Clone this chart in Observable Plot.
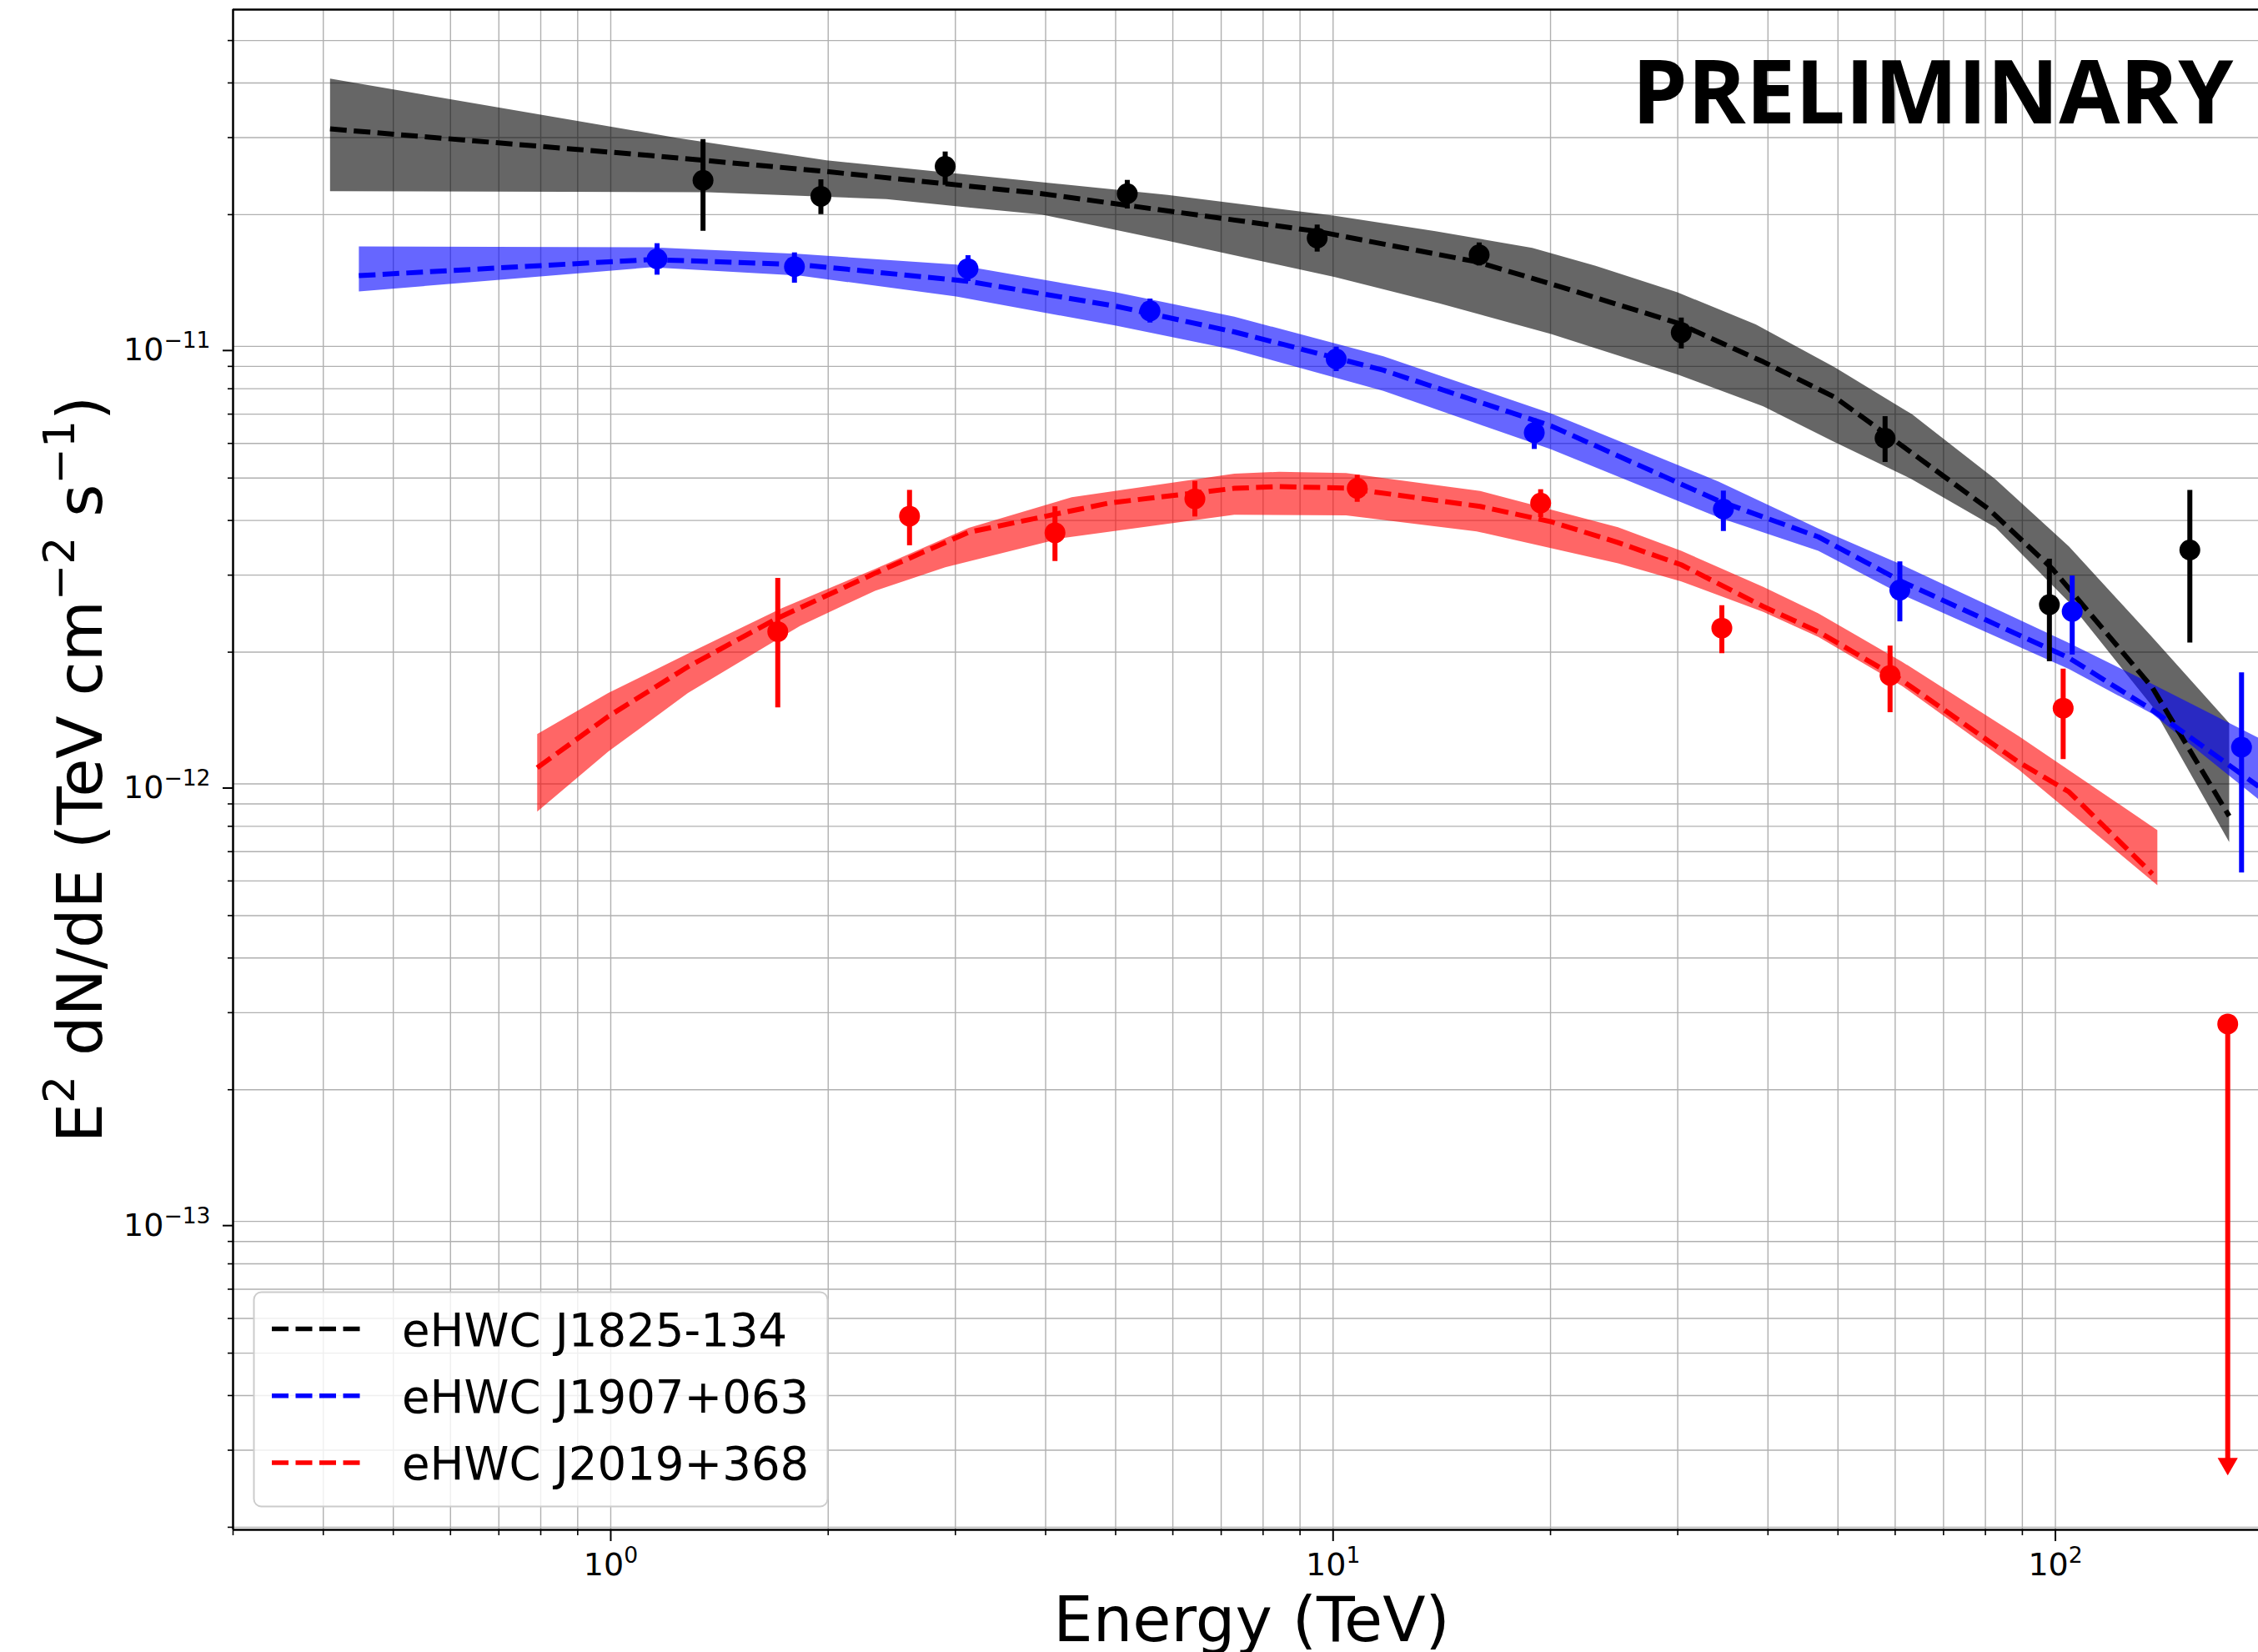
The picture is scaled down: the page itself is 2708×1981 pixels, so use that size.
<!DOCTYPE html>
<html><head><meta charset="utf-8">
<script src="https://cdn.jsdelivr.net/npm/d3@7"></script>
<script src="https://cdn.jsdelivr.net/npm/@observablehq/plot@0.6"></script>
<style>html,body{margin:0;padding:0;background:#fff;} svg{display:block;} text{white-space:pre;}</style>
</head><body><div id="chart"></div>
<script>
// ---------------- DATA ----------------
const sourceNames = ["eHWC J1825-134", "eHWC J1907+063", "eHWC J2019+368"];
const sourceColors = ["black", "blue", "red"];

// Flux points (E in TeV, E^2 dN/dE in TeV cm^-2 s^-1)
const j1825E  = [1.342, 1.954, 2.904, 5.189, 9.506, 15.93, 30.34, 58.1, 98.1, 153.5];
const j1825F  = [2.396e-11, 2.202e-11, 2.578e-11, 2.233e-11, 1.768e-11, 1.619e-11, 1.075e-11, 6.166e-12, 2.568e-12, 3.425e-12];
const j1825Lo = [1.833e-11, 2.001e-11, 2.334e-11, 2.061e-11, 1.643e-11, 1.527e-11, 9.87e-12, 5.43e-12, 1.903e-12, 2.099e-12];
const j1825Hi = [2.97e-11, 2.403e-11, 2.782e-11, 2.396e-11, 1.894e-11, 1.724e-11, 1.161e-11, 6.91e-12, 3.264e-12, 4.688e-12];

const j1907E  = [1.159, 1.796, 3.123, 5.579, 10.1, 18.99, 34.7, 60.9, 105.5, 181.0];
const j1907F  = [1.584e-11, 1.521e-11, 1.505e-11, 1.205e-11, 9.355e-12, 6.35e-12, 4.246e-12, 2.773e-12, 2.479e-12, 1.213e-12];
const j1907Lo = [1.455e-11, 1.395e-11, 1.407e-11, 1.131e-11, 8.76e-12, 5.815e-12, 3.776e-12, 2.347e-12, 1.971e-12, 6.26e-13];
const j1907Hi = [1.717e-11, 1.636e-11, 1.612e-11, 1.283e-11, 9.96e-12, 6.83e-12, 4.67e-12, 3.218e-12, 2.987e-12, 1.794e-12];

const j2019E  = [1.703, 2.592, 4.121, 6.437, 10.8, 19.38, 34.53, 59.03, 102.5];
const j2019F  = [2.228e-12, 4.093e-12, 3.749e-12, 4.483e-12, 4.737e-12, 4.384e-12, 2.27e-12, 1.77e-12, 1.49e-12];
const j2019Lo = [1.493e-12, 3.503e-12, 3.224e-12, 4.076e-12, 4.403e-12, 4.063e-12, 1.985e-12, 1.455e-12, 1.137e-12];
const j2019Hi = [2.949e-12, 4.688e-12, 4.3e-12, 4.914e-12, 5.075e-12, 4.704e-12, 2.555e-12, 2.066e-12, 1.83e-12];
// upper limit of eHWC J2019+368
const j2019UlE = [173.2];
const j2019UlF = [2.826e-13];
const j2019UlTip = [2.626e-14];

// Best-fit spectra (dashed lines)
const fit1825E = [0.4087, 1.136, 1.984, 3.95, 7.30, 9.48, 15.79, 20.03, 29.97, 39.4, 49.5, 61.3, 80.8, 98.97, 136.2, 174.0];
const fit1825F = [3.14e-11, 2.73e-11, 2.51e-11, 2.234e-11, 1.944e-11, 1.833e-11, 1.561e-11, 1.389e-11, 1.131e-11, 9.22e-12, 7.65e-12, 5.93e-12, 4.25e-12, 3.105e-12, 1.66e-12, 8.44e-13];
const fit1907E = [0.448, 1.136, 1.826, 3.115, 5.006, 7.30, 11.74, 20.03, 34.17, 46.96, 61.3, 104.4, 136.2, 191.1];
const fit1907F = [1.451e-11, 1.579e-11, 1.538e-11, 1.409e-11, 1.235e-11, 1.079e-11, 8.82e-12, 6.58e-12, 4.436e-12, 3.67e-12, 2.90e-12, 1.941e-12, 1.475e-12, 9.87e-13];
const fit2019E = [0.791, 0.992, 1.279, 1.698, 2.322, 3.13, 4.896, 7.30, 8.42, 10.42, 15.98, 20.03, 24.8, 30.34, 39.4, 46.97, 61.3, 88.97, 104.4, 136.2];
const fit2019F = [1.089e-12, 1.426e-12, 1.853e-12, 2.387e-12, 3.03e-12, 3.759e-12, 4.385e-12, 4.737e-12, 4.779e-12, 4.744e-12, 4.307e-12, 3.974e-12, 3.561e-12, 3.168e-12, 2.544e-12, 2.227e-12, 1.725e-12, 1.121e-12, 9.59e-13, 6.23e-13];

// Uncertainty bands: upper and lower edges
const band1825UpE = [0.4087, 1.238, 1.990, 5.904, 10.06, 13.86, 18.87, 23.09, 29.97, 38.47, 49.5, 63.27, 82.6, 104.4, 136.2, 174.0];
const band1825UpF = [4.09e-11, 2.993e-11, 2.661e-11, 2.218e-11, 1.988e-11, 1.833e-11, 1.679e-11, 1.527e-11, 1.329e-11, 1.123e-11, 8.95e-12, 7.0e-12, 4.97e-12, 3.49e-12, 2.163e-12, 1.377e-12];
const band1825LoE = [0.4087, 1.361, 2.407, 3.126, 3.95, 5.904, 10.06, 14.03, 20.03, 29.97, 39.4, 49.5, 63.27, 82.6, 104.4, 136.2, 174.0];
const band1825LoF = [2.263e-11, 2.25e-11, 2.17e-11, 2.077e-11, 2.001e-11, 1.742e-11, 1.44e-11, 1.254e-11, 1.067e-11, 8.63e-12, 7.29e-12, 6.04e-12, 4.97e-12, 3.855e-12, 2.604e-12, 1.504e-12, 7.36e-13];

const band1907UpE = [0.448, 1.136, 1.826, 3.006, 5.006, 7.30, 11.74, 20.03, 34.17, 46.96, 61.3, 104.4, 136.2, 191.1];
const band1907UpF = [1.692e-11, 1.684e-11, 1.626e-11, 1.538e-11, 1.329e-11, 1.169e-11, 9.49e-12, 7.03e-12, 4.91e-12, 3.835e-12, 3.167e-12, 2.099e-12, 1.692e-12, 1.274e-12];
const band1907LoE = [0.448, 1.136, 1.826, 3.006, 5.006, 7.30, 11.74, 20.03, 34.17, 46.96, 61.3, 104.4, 136.2, 191.1];
const band1907LoF = [1.335e-11, 1.516e-11, 1.451e-11, 1.30e-11, 1.115e-11, 9.82e-12, 7.91e-12, 5.815e-12, 4.063e-12, 3.41e-12, 2.708e-12, 1.83e-12, 1.446e-12, 9.22e-13];

const band2019UpE = [0.791, 0.992, 1.279, 1.723, 2.322, 3.13, 4.346, 7.30, 8.42, 10.42, 15.98, 24.8, 30.34, 39.4, 46.96, 61.3, 88.97, 138.4];
const band2019UpF = [1.30e-12, 1.613e-12, 1.985e-12, 2.52e-12, 3.10e-12, 3.848e-12, 4.521e-12, 5.117e-12, 5.167e-12, 5.135e-12, 4.67e-12, 3.86e-12, 3.41e-12, 2.82e-12, 2.454e-12, 1.903e-12, 1.286e-12, 7.84e-13];
const band2019LoE = [0.791, 0.992, 1.279, 1.829, 2.322, 2.905, 4.219, 7.30, 10.42, 15.8, 24.8, 30.34, 39.4, 46.96, 61.3, 88.97, 138.4];
const band2019LoF = [8.64e-13, 1.185e-12, 1.613e-12, 2.298e-12, 2.763e-12, 3.126e-12, 3.645e-12, 4.123e-12, 4.109e-12, 3.776e-12, 3.192e-12, 2.902e-12, 2.472e-12, 2.167e-12, 1.675e-12, 1.078e-12, 5.87e-13];

// Axes
const xDomain = [0.3, 191];
const yDomain = [1.973e-14, 5.884e-11];
const xMajorTicks = [1, 10, 100];
const xMinorTicks = [0.3, 0.4, 0.5, 0.6, 0.7, 0.8, 0.9, 2, 3, 4, 5, 6, 7, 8, 9, 20, 30, 40, 50, 60, 70, 80, 90];
const yMajorTicks = [1e-13, 1e-12, 1e-11];
const yMinorTicks = [2e-14, 3e-14, 4e-14, 5e-14, 6e-14, 7e-14, 8e-14, 9e-14,
                     2e-13, 3e-13, 4e-13, 5e-13, 6e-13, 7e-13, 8e-13, 9e-13,
                     2e-12, 3e-12, 4e-12, 5e-12, 6e-12, 7e-12, 8e-12, 9e-12,
                     2e-11, 3e-11, 4e-11, 5e-11];
const xTitle = "Energy (TeV)";
const yTitleParts = [["E", false], ["2", true], [" dN/dE (TeV cm", false], ["\u22122", true], [" s", false], ["\u22121", true], [")", false]];
const watermark = "PRELIMINARY";

// ---------------- BUILD ----------------
const pts = (E, F, Lo, Hi) => E.map((e, i) => ({E: e, F: F[i], lo: Lo[i], hi: Hi[i]}));
const line = (E, F) => E.map((e, i) => ({E: e, F: F[i]}));
const band = (uE, uF, lE, lF) => [...line(uE, uF), ...line(lE, lF).reverse()];

const points = [pts(j1825E, j1825F, j1825Lo, j1825Hi), pts(j1907E, j1907F, j1907Lo, j1907Hi), pts(j2019E, j2019F, j2019Lo, j2019Hi)];
const fits = [line(fit1825E, fit1825F), line(fit1907E, fit1907F), line(fit2019E, fit2019F)];
const bands = [band(band1825UpE, band1825UpF, band1825LoE, band1825LoF),
               band(band1907UpE, band1907UpF, band1907LoE, band1907LoF),
               band(band2019UpE, band2019UpF, band2019LoE, band2019LoF)];
const ul = j2019UlE.map((e, i) => ({E: e, F: j2019UlF[i], tip: j2019UlTip[i]}));

const dash = "20,8.5";
const supFmt = d => "10^" + String(Math.round(Math.log10(d))).replace("-", "\u2212");

const marks = [
  Plot.gridX([...xMinorTicks, ...xMajorTicks], {stroke: "#b0b0b0", strokeOpacity: 1, strokeWidth: 1.4}),
  Plot.gridY([...yMinorTicks, ...yMajorTicks], {stroke: "#b0b0b0", strokeOpacity: 1, strokeWidth: 1.4}),
];
bands.forEach((b, k) => marks.push(Plot.line(b, {x: "E", y: "F", fill: sourceColors[k], fillOpacity: 0.6, stroke: "none"})));
fits.forEach((f, k) => marks.push(Plot.line(f, {x: "E", y: "F", stroke: sourceColors[k], strokeWidth: 6, strokeDasharray: dash, strokeLinecap: "butt"})));
points.forEach((p, k) => {
  marks.push(Plot.ruleX(p, {x: "E", y1: "hi", y2: "lo", stroke: sourceColors[k], strokeWidth: 6}));
  marks.push(Plot.dot(p, {x: "E", y: "F", r: 12.5, fill: sourceColors[k], stroke: "none"}));
});
marks.push(
  Plot.ruleX(ul, {x: "E", y1: "F", y2: "tip", stroke: "red", strokeWidth: 6, insetBottom: 14}),
  Plot.dot(ul, {x: "E", y: "F", r: 12.5, fill: "red", stroke: "none"}),
  Plot.dot(ul, {x: "E", y: "tip", symbol: "triangle", r: 9, rotate: 180, dy: -14, fill: "red", stroke: "none"}),
  Plot.ruleX([xDomain[0]], {stroke: "black", strokeWidth: 2.5}),
  Plot.ruleY(yDomain, {stroke: "black", strokeWidth: 2.5}),
  Plot.axisX(xMinorTicks, {anchor: "bottom", tickSize: 7, strokeWidth: 1.6, tickFormat: () => "", label: null}),
  Plot.axisX(xMajorTicks, {anchor: "bottom", tickSize: 14, tickPadding: 14, strokeWidth: 2, fontSize: 38, tickFormat: supFmt, label: null}),
  Plot.axisY(yMinorTicks, {anchor: "left", tickSize: 6, strokeWidth: 1.6, tickFormat: () => "", label: null}),
  Plot.axisY(yMajorTicks, {anchor: "left", tickSize: 12, tickPadding: 15, dy: 5, strokeWidth: 2, fontSize: 38, tickFormat: supFmt, label: null}),
  Plot.text([watermark], {text: d => d, frameAnchor: "top-right", dx: -30, dy: 136, textAnchor: "end", lineAnchor: "bottom",
    fontSize: 106, fontWeight: "bold", fontFamily: "Open Sans", fill: "black"})
);

const chart = Plot.plot({
  width: 2708, height: 1981,
  marginLeft: 279, marginRight: 0, marginTop: 11, marginBottom: 147,
  x: {type: "log", domain: xDomain},
  y: {type: "log", domain: yDomain},
  style: {fontFamily: "DejaVu Sans", background: "white", color: "black", overflow: "visible"},
  marks
});
document.getElementById("chart").appendChild(chart);

const svg = d3.select(chart);
// superscript tick labels
svg.selectAll('g[aria-label="x-axis tick label"] text, g[aria-label="y-axis tick label"] text').each(function() {
  const s = this.textContent;
  if (!s.includes("^")) return;
  const [b, e] = s.split("^");
  const t = d3.select(this);
  t.text(null);
  t.append("tspan").text(b);
  t.append("tspan").attr("font-size", 26.6).attr("dy", -15).text(e);
});

// axis titles
svg.append("text").attr("x", 1501).attr("y", 1968).attr("text-anchor", "middle")
  .attr("font-family", "DejaVu Sans").attr("font-size", 75).attr("fill", "black").text(xTitle);
const yt = svg.append("text").attr("transform", "translate(122,922.5) rotate(-90)").attr("text-anchor", "middle")
  .attr("font-family", "DejaVu Sans").attr("font-size", 75).attr("fill", "black");
let raised = false;
yTitleParts.forEach(([t, sup]) => {
  const ts = yt.append("tspan").text(t);
  if (sup && !raised) { ts.attr("font-size", 52).attr("dy", -33); raised = true; }
  else if (!sup && raised) { ts.attr("dy", 33); raised = false; }
});

// legend
const lg = svg.append("g").attr("text-anchor", "start");
lg.append("rect").attr("x", 304.5).attr("y", 1549.5).attr("width", 688).attr("height", 257).attr("rx", 9)
  .attr("fill", "white").attr("fill-opacity", 0.8).attr("stroke", "#cccccc").attr("stroke-width", 2);
sourceNames.forEach((name, k) => {
  const cy = 1593.5 + k * 80.3;
  lg.append("line").attr("x1", 326).attr("x2", 435).attr("y1", cy).attr("y2", cy)
    .attr("stroke", sourceColors[k]).attr("stroke-width", 5.5).attr("stroke-dasharray", dash);
  lg.append("text").attr("x", 482).attr("y", cy + 20).attr("text-anchor", "start").attr("font-family", "DejaVu Sans").attr("font-size", 54.5)
    .attr("fill", "black").text(name);
});
</script></body></html>
